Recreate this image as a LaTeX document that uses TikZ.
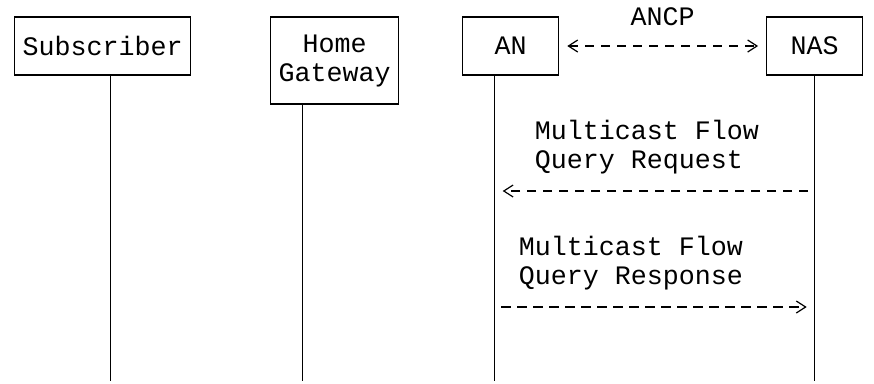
\documentclass[tikz,border=0pt]{standalone}
\usepackage{fontspec}
\setmonofont{Liberation Mono}
\usetikzlibrary{arrows.meta, positioning}
\begin{document}
\begin{tikzpicture}[x=0.75pt,y=-0.75pt]
	\tikzstyle{entity} = [draw, line width=0.9pt, minimum height=43.5pt, minimum width=72pt, inner sep=0pt, align=center, font=\ttfamily\fontsize{20}{21.75}\selectfont]
	\tikzstyle{life} = [line width=0.9pt]
	\tikzstyle{msg} = [line width=0.9pt, dash pattern=on 7pt off 5pt, -{Straight Barb[length=7pt,width=9pt]}]
	\tikzstyle{lbl} = [anchor=west, align=left, inner sep=0pt, font=\ttfamily\fontsize{20}{21.75}\selectfont]
	\useasboundingbox (0,0) rectangle (874,383);
	% the four boxes
	\node (sub) [entity, minimum width=132pt] at (102.7,46) {Subscriber};
	\node (hg) [entity, minimum width=96pt, minimum height=65.25pt] at (334.7,60.5) {Home\\Gateway};
	\node (an) [entity] at (510.7,46) {AN};
	\node (nas) [entity] at (814.7,46) {NAS};
	% lifelines
	\coordinate (subEnd) at (110.7,381);
	\coordinate (hgEnd) at (302.7,381);
	\coordinate (anEnd) at (494.7,381);
	\coordinate (nasEnd) at (814.7,381);
	\draw[life] (sub.south -| subEnd) -- (subEnd);
	\draw[life] (hg.south -| hgEnd) -- (hgEnd);
	\draw[life] (an.south -| anEnd) -- (anEnd);
	\draw[life] (nas.south) -- (nasEnd);
	% messages
	\draw[msg, {Straight Barb[length=7pt,width=9pt]}-{Straight Barb[length=7pt,width=9pt]}, shorten <=6pt, shorten >=6pt] (an.east) -- node[midway, yshift=21.75pt, inner sep=0pt, font=\ttfamily\fontsize{20}{21.75}\selectfont] (ancp) {ANCP} (nas.west);
	\coordinate (req) at (0,191);
	\coordinate (resp) at (0,307);
	\node (reqLbl) [lbl] at (534.7,147.5) {Multicast Flow\\Query Request};
	\node (respLbl) [lbl] at (518.7,263.5) {Multicast Flow\\Query Response};
	\draw[msg, shorten <=5pt, shorten >=6pt] (nasEnd |- req) -- (anEnd |- req);
	\draw[msg, shorten <=5pt, shorten >=6pt] (anEnd |- resp) -- (nasEnd |- resp);
\end{tikzpicture}
\end{document}
